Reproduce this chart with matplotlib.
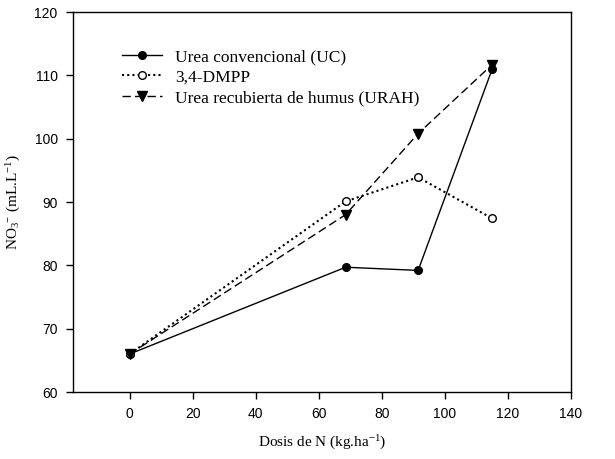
import matplotlib
matplotlib.use("Agg")
import matplotlib.pyplot as plt

plt.rcParams["mathtext.fontset"] = "custom"
plt.rcParams["mathtext.rm"] = "Liberation Serif"
plt.rcParams["mathtext.it"] = "Liberation Serif:italic"
plt.rcParams["mathtext.default"] = "rm"

dose = [0, 68.5, 91.5, 115]
uc = [66.0, 79.7, 79.2, 111.0]
dmpp = [66.0, 90.1, 93.9, 87.4]
urah = [66.0, 88.0, 100.8, 111.7]
labels = ["Urea convencional (UC)", "3,4-DMPP", "Urea recubierta de humus (URAH)"]
xticks = [0, 20, 40, 60, 80, 100, 120, 140]
yticks = [60, 70, 80, 90, 100, 110, 120]

fig = plt.figure(figsize=(6.15, 4.59), dpi=100)
ax = fig.add_axes([73/615, 1 - 392/459, (571 - 73)/615, (392 - 12)/459])

ax.plot(dose, uc, color="black", lw=1, ls="-", marker="o", ms=5.5, mfc="black", mec="black", label=labels[0])
ax.plot(dose, dmpp, color="black", lw=1.5, ls=(0, (1, 1.5)), marker="o", ms=5.5, mfc="white", mec="black", label=labels[1])
ax.plot(dose, urah, color="black", lw=1, ls=(0, (6, 3)), marker="v", ms=6.5, mfc="black", mec="black", label=labels[2])

ax.set_xlim(-18, 140)
ax.set_ylim(60, 120)
ax.set_xticks(xticks)
ax.set_yticks(yticks)
tickfont = {"family": "Liberation Sans", "size": 10}
ax.set_xticklabels([str(t) for t in xticks], **tickfont)
ax.set_yticklabels([str(t) for t in yticks], **tickfont)
ax.tick_params(direction="out", length=5, width=1, pad=6)
for s in ax.spines.values():
    s.set_linewidth(1)

serif = {"family": "Liberation Serif", "size": 11}
ax.set_xlabel("Dosis de N (kg.ha$^{-1}$)", labelpad=9, **serif)
ax.set_ylabel("NO$_3$$^{-}$ (mL.L$^{-1}$)", labelpad=8, **serif)

leg = ax.legend(loc="upper left", bbox_to_anchor=(0.067, 0.944), frameon=False,
                prop={"family": "Liberation Serif", "size": 12.5}, handlelength=2.3,
                labelspacing=0.25, handletextpad=0.75)

fig.savefig("out.png", dpi=100)
